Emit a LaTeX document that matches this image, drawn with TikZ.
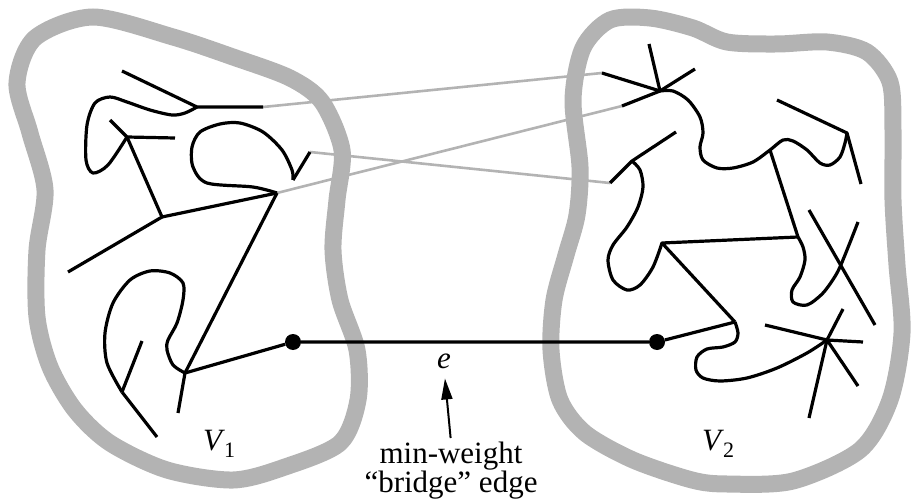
\documentclass[tikz,border=0pt]{standalone}
\usepackage{fontspec}
\setmainfont{Liberation Serif}
\usetikzlibrary{arrows.meta}
\definecolor{rim}{HTML}{B3B3B3}
\newcommand{\vset}[1]{\textit{V}\kern-1pt\raisebox{-7pt}{\fontsize{22}{22}\selectfont #1}}
\tikzset{
  blob/.style={draw=rim,line width=17pt},
  tree/.style={draw=black,line width=3.2pt,line join=round},
  cross/.style={draw=rim,line width=2.6pt},
  dot/.style={circle,fill=black,inner sep=0pt,minimum size=16pt},
  ar/.style={-{Triangle[length=21pt,width=11pt]},line width=2pt},
  lab/.style={inner sep=0pt,font=\fontsize{31}{27}\selectfont},
}
\begin{document}
\begin{tikzpicture}[x=1pt,y=-1pt]
\useasboundingbox (0,0) rectangle (911,500);
% the two halves of the cut
\draw[blob] plot[smooth cycle] coordinates {(93,17) (173,37) (233,57) (290,78) (322,102) (342,150) (337,200) (333,250) (340,300) (357,350) (358,400) (340,443) (285,467) (233,480) (167,470) (110,443) (75,410) (50,367) (37,317) (37,250) (45,190) (30,133) (17,83) (35,38)};
\draw[blob] plot[smooth cycle] coordinates {(610,20) (650,18) (693,28) (727,42) (777,44) (827,42) (867,52) (890,82) (893,130) (893,200) (897,265) (902,333) (890,400) (860,450) (793,481) (727,484) (692,480) (633,460) (585,433) (560,400) (551,350) (554,300) (566,255) (577,215) (580,167) (573,100) (583,48)};
% junctions, left tree
\coordinate (a1) at (197,107);
\coordinate (a2) at (127,137);
\coordinate (a3) at (162,217);
\coordinate (a4) at (277,193);
\coordinate (a5) at (185,373);
\coordinate (a6) at (122,392);
\coordinate (a7) at (293,180);
\coordinate (l1) at (263,107);
\coordinate (l2) at (310,152);
% junctions, right tree
\coordinate (b1) at (660,91);
\coordinate (b2) at (770,150);
\coordinate (b3) at (847,133);
\coordinate (b4) at (632,161);
\coordinate (b5) at (662,243);
\coordinate (b6) at (798,237);
\coordinate (b7) at (735,322);
\coordinate (b8) at (827,340);
\coordinate (r1) at (602,73);
\coordinate (r2) at (610,183);
\coordinate (r3) at (622,106);
% crossing edges
\draw[cross] (l1) -- (r1);
\draw[cross] (l2) -- (r2);
\draw[cross] (a4) -- (r3);
% left tree
\draw[tree] (122,71) -- (a1) -- (l1);
\draw[tree] plot[smooth] coordinates {(a1) (185,113) (172,115) (150,110) (127,102) (110,97) (95,103) (87,125) (86,160) (93,173) (108,165) (a2)};
\draw[tree] (110,120) -- (a2) -- (175,138);
\draw[tree] (a2) -- (a3) -- (a4);
\draw[tree] (a3) -- (68,272);
\draw[tree] plot[smooth] coordinates {(a4) (253,187) (207,183) (193,167) (192,147) (200,132) (220,124) (240,123) (263,132) (282,150) (292,170) (a7)};
\draw[tree] (a7) -- (l2);
\draw[tree] (a4) -- (a5) -- (178,413);
\draw[tree] plot[smooth] coordinates {(a5) (173,365) (167,350) (168,340) (177,323) (183,300) (183,283) (170,273) (150,271) (130,280) (113,303) (105,333) (107,363) (a6)};
\draw[tree] (a6) -- (157,437);
\draw[tree] (a6) -- (142,341);
% right tree
\draw[tree] (b1) -- (649,44);
\draw[tree] (b1) -- (695,69);
\draw[tree] (b1) -- (r1);
\draw[tree] (b1) -- (r3);
\draw[tree] plot[smooth] coordinates {(b1) (673,91) (688,100) (700,117) (703,133) (700,147) (703,160) (717,168) (733,168) (753,162) (b2) (783,140) (793,141) (807,150) (820,163) (830,165) (840,157) (845,143) (b3)};
\draw[tree] (777,100) -- (b3) -- (861,184);
\draw[tree] (b2) -- (b6);
\draw[tree] (676,132) -- (b4) -- (r2);
\draw[tree] plot[smooth] coordinates {(b4) (640,170) (643,187) (638,207) (627,227) (613,245) (608,260) (613,280) (627,290) (640,285) (653,267) (b5)};
\draw[tree] (b6) -- (b5) -- (b7);
\draw[tree] plot[smooth] coordinates {(b6) (803,247) (805,260) (800,277) (792,290) (793,302) (807,305) (823,293) (837,273) (847,250) (858,222)};
\draw[tree] (809,210) -- (875,325);
\draw[tree] plot[smooth] coordinates {(b7) (738,333) (735,342) (723,347) (707,349) (697,357) (696,370) (703,378) (720,381) (747,378) (777,368) (807,353) (b8)};
\draw[tree] (765,325) -- (b8) -- (863,342);
\draw[tree] (843,309) -- (b8) -- (858,386);
\draw[tree] (b8) -- (809,418);
% the bridge
\node[dot] (u) at (293,342) {};
\node[dot] (v) at (657,342) {};
\draw[tree] (a5) -- (u) -- (v) -- (b7);
\node[lab,anchor=base west] (V1) at (203,450) {\vset{1}};
\node[lab,anchor=base west] (V2) at (702,450) {\vset{2}};
\node[lab,anchor=base] (e) at (444,368) {\textit{e}};
\node[lab,align=center,anchor=north] (txt) at (451,442) {min-weight\\“bridge” edge};
\draw[ar,shorten <=4pt,shorten >=10pt] (txt.north) -- (e.south);
\end{tikzpicture}
\end{document}
